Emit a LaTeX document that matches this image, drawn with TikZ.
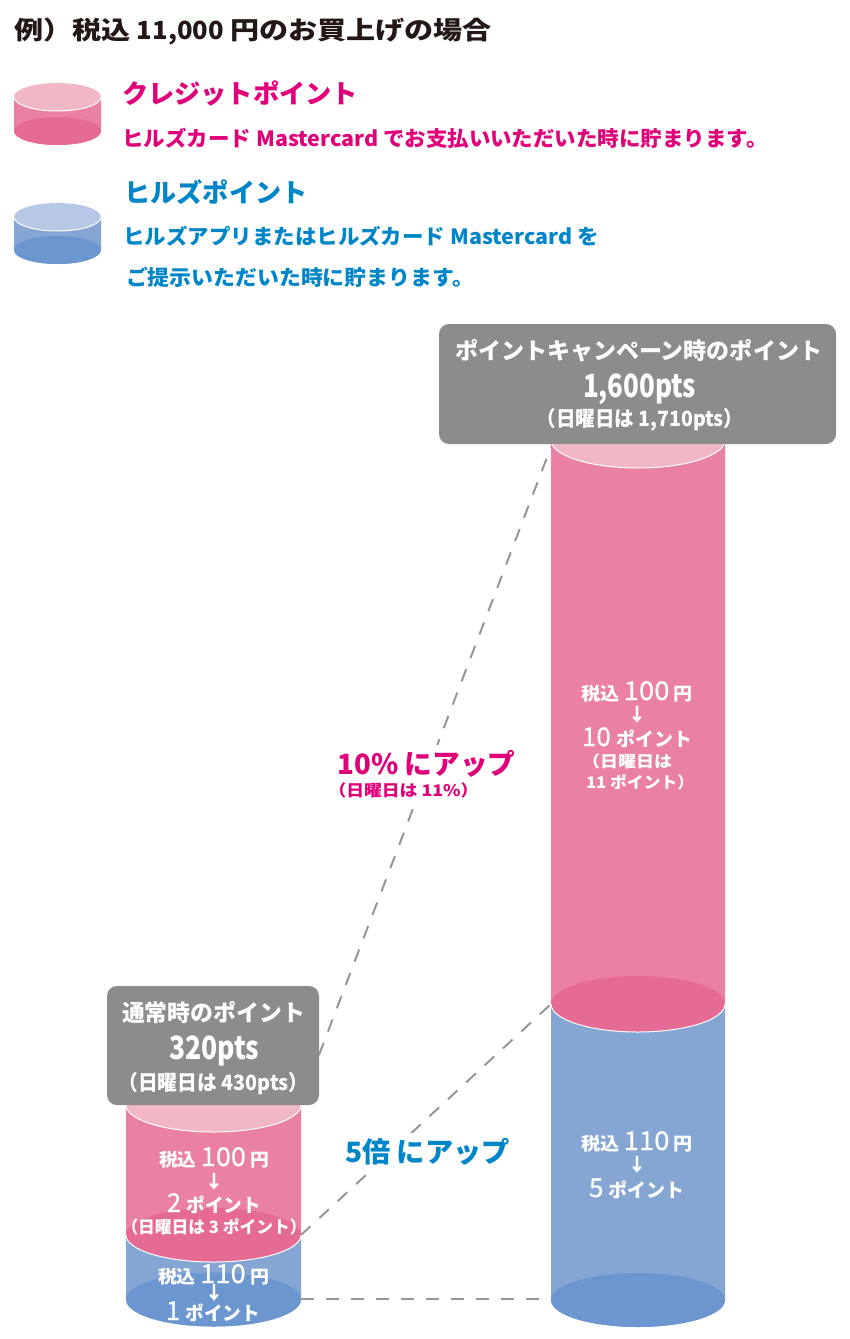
\documentclass[tikz,border=0pt]{standalone}
\usepackage{graphicx}
\usepackage{fontspec}
\setmainfont{Noto Sans CJK JP}
\newfontfamily\medfont{Noto Sans CJK JP}[FakeBold=0.5]
\definecolor{pinkbody}{HTML}{EA80A3}
\definecolor{pinktop}{HTML}{F1B7C5}
\definecolor{pinkbase}{HTML}{E56A94}
\definecolor{bluebody}{HTML}{85A6D3}
\definecolor{bluetop}{HTML}{B6C8E5}
\definecolor{bluebase}{HTML}{6C96CF}
\definecolor{boxgrey}{HTML}{8C8C8C}
\definecolor{dashgrey}{HTML}{969696}
\definecolor{titleink}{HTML}{231815}
\definecolor{magink}{HTML}{E0007A}
\definecolor{blueink}{HTML}{0086C8}
\newsavebox\fwbox
\newlength\fwlen
\newcommand{\sz}[1]{\fontsize{#1}{#1}\selectfont}
\newcommand{\nm}[1]{{\medfont\mdseries\fontsize{26}{26}\selectfont #1}}
% name, centre x, baseline y, width, colour, content
\newcommand{\lab}[6]{%
  \node[labelnode,text=#5] (#1) at (#2,#3) {%
    \sbox\fwbox{\normalfont\bfseries #6}%
    \setlength\fwlen{\wd\fwbox}%
    \edef\fww{\the\fwlen}%
    \pgfmathsetmacro\fwr{#4/\fww}%
    \scalebox{\fwr}[1]{\usebox\fwbox}};}
% cx, rx, ry, ytop, ybot, colour prefix
\newcommand{\tubebody}[6]{%
  \fill[#6body] ({#1-#2},#4) -- ({#1-#2},#5) arc[start angle=180,end angle=0,x radius=#2,y radius=#3] -- ({#1+#2},#4) -- cycle;}
\newcommand{\tubebase}[5]{%
  \fill[#5base] (#1,#4) ellipse[x radius=#2,y radius=#3];}
\newcommand{\tubetop}[5]{%
  \fill[#5top] (#1,#4) ellipse[x radius=#2,y radius=#3];
  \draw[whiterim] ({#1-#2},#4) arc[start angle=180,end angle=0,x radius=#2,y radius=#3];}
\tikzset{
  labelnode/.style={anchor=base,inner sep=0pt,outer sep=0pt},
  whiterim/.style={draw=white,line width=1pt},
  greybox/.style={fill=boxgrey,rounded corners=10pt},
  dashlink/.style={draw=dashgrey,line width=2pt,dash pattern=on 13pt off 12pt},
}
\begin{document}
\begin{tikzpicture}[x=1pt,y=-1pt]
\useasboundingbox (0,0) rectangle (849,1339);
% connectors
\coordinate (lA) at (319,1055);
\coordinate (rA) at (551,447);
\coordinate (lB) at (301,1235);
\coordinate (rB) at (551,1004);
\coordinate (lC) at (301,1299);
\coordinate (rC) at (551,1299);
\draw[dashlink] (lA) -- (rA);
\draw[dashlink] (lB) -- (rB);
\draw[dashlink] (lC) -- (rC);
% white clearing behind the callouts
\fill[white] (339,745) rectangle (514,805);
\fill[white] (345,1133) rectangle (510,1171);
% legend cylinders
\tubebody{57.5}{43.5}{14}{97}{131}{pink}
\tubebase{57.5}{43.5}{14}{131}{pink}
\tubetop{57.5}{43.5}{14}{97}{pink}
\tubebody{57.5}{43.5}{14}{217}{250}{blue}
\tubebase{57.5}{43.5}{14}{250}{blue}
\tubetop{57.5}{43.5}{14}{217}{blue}
% left stack
\tubebody{213.5}{87.5}{27}{1235}{1299.5}{blue}
\tubebase{213.5}{87.5}{27}{1299.5}{blue}
\tubebody{213.5}{87.5}{27}{1105}{1235}{pink}
\tubebase{213.5}{87.5}{27}{1235}{pink}
\draw[whiterim] (126,1235) arc[start angle=180,end angle=0,x radius=87.5,y radius=27];
\tubetop{213.5}{87.5}{27}{1105}{pink}
% right stack
\tubebody{638}{87}{27}{1004}{1300}{blue}
\tubebase{638}{87}{27}{1300}{blue}
\tubebody{638}{87}{28}{440}{1004}{pink}
\tubebase{638}{87}{28}{1004}{pink}
\draw[whiterim] (551,1004) arc[start angle=180,end angle=0,x radius=87,y radius=28];
\tubetop{638}{87}{28}{440}{pink}
% boxes
\fill[greybox] (107,986) rectangle (319,1105);
\fill[greybox] (439,324) rectangle (836,444);
% heading and legend
\lab{title}{253}{39}{478}{titleink}{\sz{25}例）税込 \scalebox{.88}[1]{11,000} 円のお買上げの場合}
\lab{credithead}{240}{103}{236}{magink}{\sz{26}クレジットポイント}
\lab{creditline}{445}{146}{645}{magink}{\sz{21}ヒルズカード Mastercard でお支払いいただいた時に貯まります。}
\lab{hillshead}{216}{202}{183}{blueink}{\sz{26}ヒルズポイント}
\lab{hillsone}{361}{244}{475}{blueink}{\sz{21}ヒルズアプリまたはヒルズカード Mastercard を}
\lab{hillstwo}{300}{285}{348}{blueink}{\sz{21}ご提示いただいた時に貯まります。}
% box texts
\lab{lboxa}{213.5}{1021}{183}{white}{\sz{23}通常時のポイント}
\lab{lboxb}{214}{1059}{90}{white}{\sz{32}320pts}
\lab{lboxc}{213.5}{1090}{190}{white}{\sz{21}（日曜日は 430pts）}
\lab{rboxa}{638.5}{359}{367}{white}{\sz{23}ポイントキャンペーン時のポイント}
\lab{rboxb}{639.5}{397}{113}{white}{\sz{32}1,600pts}
\lab{rboxc}{640}{426}{207}{white}{\sz{21}（日曜日は 1,710pts）}
% left cylinder texts
\lab{la}{214}{1166}{110}{white}{\sz{18}税込 \nm{100} \sz{18}円}
\lab{lb}{214}{1188}{18}{white}{\sz{18}\medfont ↓}
\lab{lc}{214}{1212}{94}{white}{\sz{24}\nm{2} \sz{19}ポイント}
\lab{ld}{214}{1233}{185}{white}{\sz{17}（日曜日は 3 ポイント）}
\lab{le}{213.5}{1283}{111}{white}{\sz{18}税込 \nm{110} \sz{18}円}
\lab{lf}{214}{1299}{18}{white}{\sz{18}\medfont ↓}
\lab{lg}{213}{1320}{94}{white}{\sz{24}\nm{1} \sz{19}ポイント}
% right cylinder texts
\lab{ra}{637}{700}{112}{white}{\sz{18}税込 \nm{100} \sz{18}円}
\lab{rb}{637}{721}{18}{white}{\sz{18}\medfont ↓}
\lab{rc}{637}{746}{110}{white}{\sz{24}\nm{10} \sz{19}ポイント}
\lab{rd}{627}{767}{90}{white}{\sz{16}（日曜日は}
\lab{re}{640}{788}{108}{white}{\sz{16}11 ポイント）}
\lab{rf}{637}{1150}{112}{white}{\sz{18}税込 \nm{110} \sz{18}円}
\lab{rg}{637}{1171}{18}{white}{\sz{18}\medfont ↓}
\lab{rh}{637}{1197}{96}{white}{\sz{24}\nm{5} \sz{19}ポイント}
% callouts
\lab{upa}{426.5}{774}{178}{magink}{\sz{28}10\% にアップ}
\lab{upb}{403.5}{796}{150}{magink}{\sz{16}（日曜日は 11\%）}
\lab{upc}{427.5}{1162}{165}{blueink}{\sz{28}5倍 にアップ}
\end{tikzpicture}
\end{document}
